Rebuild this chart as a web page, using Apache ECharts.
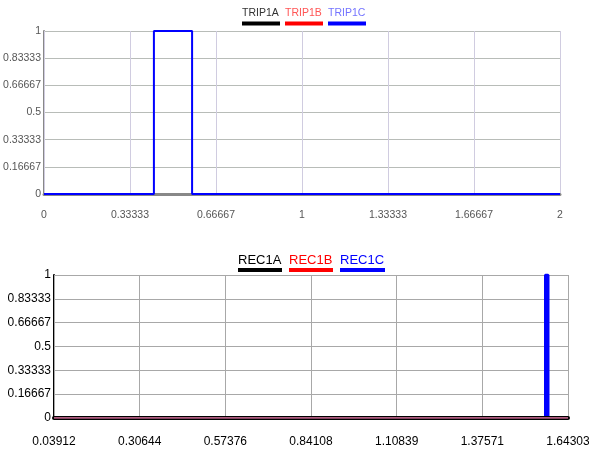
<!DOCTYPE html>
<html>
<head>
<meta charset="utf-8">
<script src="https://cdn.jsdelivr.net/npm/echarts@6/dist/echarts.min.js"></script>
<style>
html, body { margin: 0; padding: 0; background: #fff; }
#chart { width: 589px; height: 452px; }
</style>
</head>
<body>
<div id="chart"></div>
<script>
// Trip channels (upper panel)
const tripNames = ['TRIP1A', 'TRIP1B', 'TRIP1C'];
const tripX = [0, 0.426, 0.426, 0.574, 0.574, 2];
const trip1A = [0, 0, 0, 0, 0, 0];
const trip1B = [0, 0, 0, 0, 0, 0];
const trip1C = [0, 0, 1, 1, 0, 0];
const tripXTicks = ['0', '0.33333', '0.66667', '1', '1.33333', '1.66667', '2'];

// Reclose channels (lower panel)
const recNames = ['REC1A', 'REC1B', 'REC1C'];
const recX = [0.03912, 1.5728, 1.5728, 1.5806, 1.5806, 1.64303];
const rec1A = [0, 0, 0, 0, 0, 0];
const rec1B = [0, 0, 0, 0, 0, 0];
const rec1C = [0, 0, 1, 1, 0, 0];
const recXTicks = ['0.03912', '0.30644', '0.57376', '0.84108', '1.10839', '1.37571', '1.64303'];

const yTicks = ['0', '0.16667', '0.33333', '0.5', '0.66667', '0.83333', '1'];

const pairs = (xs, ys) => xs.map((x, i) => [x, ys[i]]);

const font = '"Liberation Sans", Arial, sans-serif';

const measure = (() => {
  const ctx = document.createElement('canvas').getContext('2d');
  return (text, size) => { ctx.font = size + 'px ' + font; return ctx.measureText(text).width; };
})();

// Legend entries: coloured caption with a thick bar underneath
function legendFor(names, textColors, barColors, size, lineH, gap, left, top) {
  const rich = {};
  names.forEach((n, i) => {
    rich['t' + i] = { color: textColors[i], fontSize: size, fontFamily: font, lineHeight: lineH };
    rich['u' + i] = { width: Math.round(measure(n, size)) + 1, height: 4, lineHeight: 5, backgroundColor: barColors[i] };
  });
  return {
    left: left, top: top, padding: 0, itemWidth: 0, itemHeight: 0, itemGap: gap, icon: 'none',
    selectedMode: false,
    data: names,
    formatter: name => { const i = names.indexOf(name); return '{t' + i + '|' + name + '}\n{u' + i + '|}'; },
    textStyle: { rich: rich, padding: 0 }
  };
}

const lineColors = ['#000000', '#ff0000', '#0000ff'];

const chart = echarts.init(document.getElementById('chart'));
chart.setOption({
  animation: false,
  backgroundColor: '#ffffff',
  legend: [
    legendFor(tripNames, ['#333', '#ff5555', '#7474ff'], lineColors, 10.5, 15, 0, 237, 8),
    legendFor(recNames, ['#000', '#ff0000', '#0000ff'], lineColors, 13, 14, 2, 233, 254)
  ],
  grid: [
    { left: 44, right: 29, top: 31, height: 163, outerBoundsMode: 'none' },
    { left: 54, right: 21, top: 275, height: 143, outerBoundsMode: 'none' }
  ],
  xAxis: [
    {
      gridIndex: 0, type: 'value', min: 0, max: 2, interval: 1 / 3, z: 3, offset: 1,
      axisLine: { lineStyle: { color: '#888', width: 3 } },
      axisTick: { show: false },
      axisLabel: { margin: 15, color: '#555', fontSize: 10.5, fontFamily: font, formatter: (v, i) => tripXTicks[i] },
      splitLine: { show: true, lineStyle: { color: '#d0cce0', width: 1 } }
    },
    {
      gridIndex: 1, type: 'value', min: 0.03912, max: 1.64303, interval: (1.64303 - 0.03912) / 6, z: 3, offset: 1.5,
      axisLine: { lineStyle: { color: '#000', width: 4 } },
      axisTick: { show: false },
      axisLabel: { margin: 16, color: '#000', fontSize: 12, fontFamily: font, formatter: (v, i) => recXTicks[i] },
      splitLine: { show: true, lineStyle: { color: '#a8a8a8', width: 1 } }
    }
  ],
  yAxis: [
    {
      gridIndex: 0, type: 'value', min: 0, max: 1, interval: 1 / 6,
      axisLine: { show: true, lineStyle: { color: '#888', width: 2 } },
      axisTick: { show: false },
      axisLabel: { margin: 3, color: '#555', fontSize: 10.5, fontFamily: font, formatter: (v, i) => yTicks[i] },
      splitLine: { show: true, lineStyle: { color: '#b8bcb8', width: 1 } }
    },
    {
      gridIndex: 1, type: 'value', min: 0, max: 1, interval: 1 / 6,
      axisLine: { show: true, lineStyle: { color: '#000', width: 2 } },
      axisTick: { show: false },
      axisLabel: { margin: 3, color: '#000', fontSize: 12, fontFamily: font, formatter: (v, i) => yTicks[i] },
      splitLine: { show: true, lineStyle: { color: '#a8a8a8', width: 1 } }
    }
  ],
  series: [
    { name: 'TRIP1A', type: 'line', xAxisIndex: 0, yAxisIndex: 0, data: pairs(tripX, trip1A), symbol: 'none', lineStyle: { color: lineColors[0], width: 1 }, itemStyle: { color: lineColors[0] }, z: 2 },
    { name: 'TRIP1B', type: 'line', xAxisIndex: 0, yAxisIndex: 0, data: pairs(tripX, trip1B), symbol: 'none', lineStyle: { color: lineColors[1], width: 1 }, itemStyle: { color: lineColors[1] }, z: 2 },
    { name: 'TRIP1C', type: 'line', xAxisIndex: 0, yAxisIndex: 0, data: pairs(tripX, trip1C), symbol: 'none', lineStyle: { color: lineColors[2], width: 2 }, itemStyle: { color: lineColors[2] }, z: 4 },
    { name: 'REC1A', type: 'line', xAxisIndex: 1, yAxisIndex: 1, data: pairs(recX, rec1A), symbol: 'none', lineStyle: { color: lineColors[0], width: 2 }, itemStyle: { color: lineColors[0] }, z: 2 },
    { name: 'REC1B', type: 'line', xAxisIndex: 1, yAxisIndex: 1, data: pairs(recX, rec1B), symbol: 'none', lineStyle: { color: '#e878a8', width: 1.5 }, itemStyle: { color: lineColors[1] }, z: 4 },
    { name: 'REC1C', type: 'line', xAxisIndex: 1, yAxisIndex: 1, data: pairs(recX, rec1C), symbol: 'none', lineStyle: { color: lineColors[2], width: 3 }, itemStyle: { color: lineColors[2] }, z: 2 }
  ]
});
</script>
</body>
</html>
